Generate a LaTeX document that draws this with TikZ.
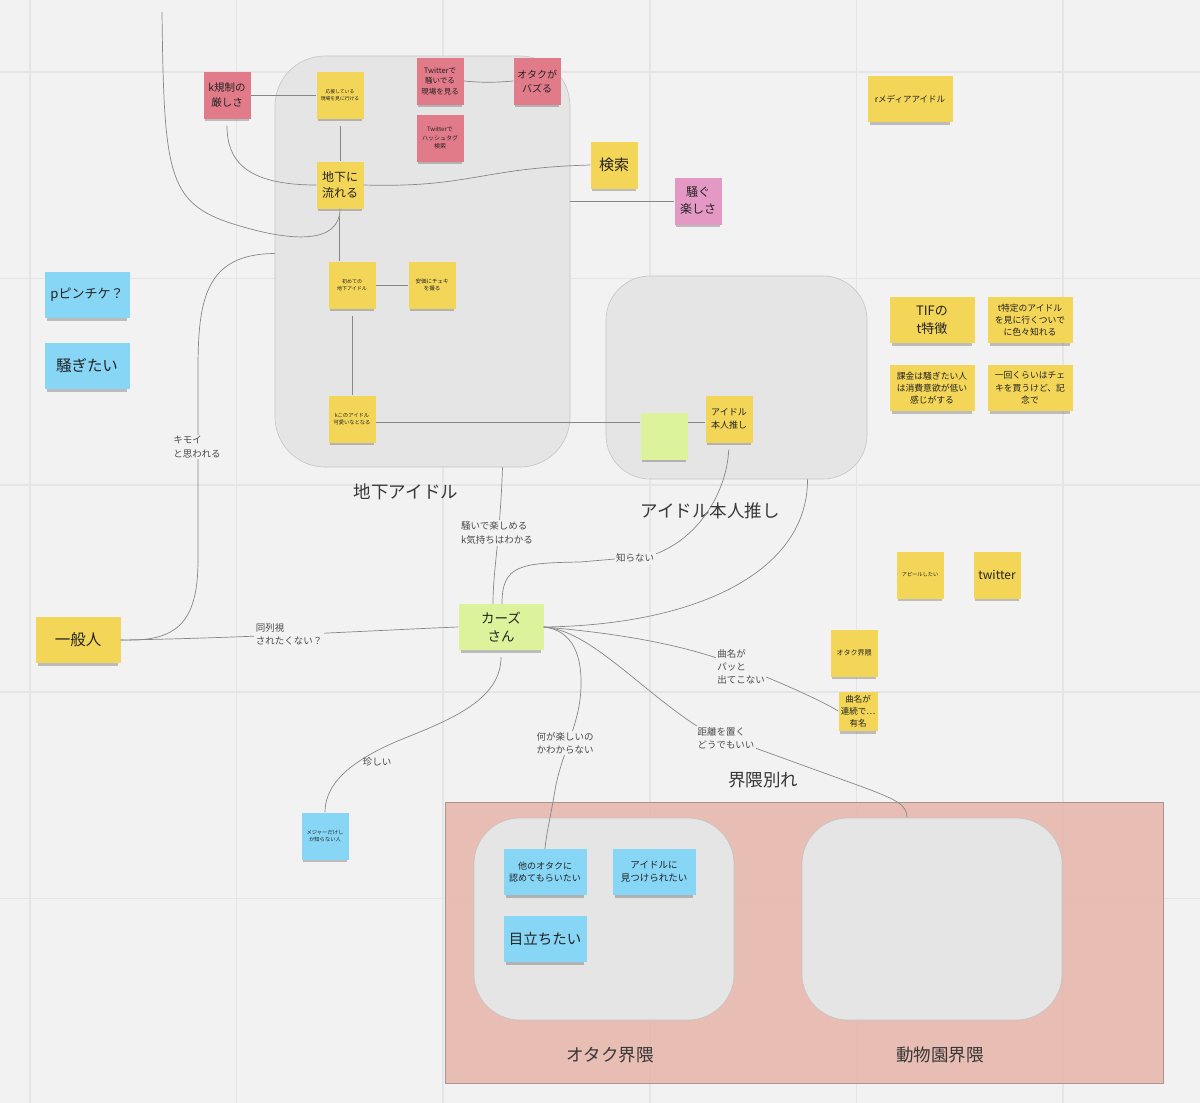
\documentclass[tikz,border=0pt]{standalone}
\usepackage{fontspec}
\setmainfont{Noto Sans CJK JP}
\usetikzlibrary{shadows}
\definecolor{bg}{RGB}{242,242,242}
\definecolor{gridc}{RGB}{229,229,229}
\definecolor{grpfill}{RGB}{229,229,229}
\definecolor{grpline}{RGB}{196,196,196}
\definecolor{zone}{RGB}{231,184,173}
\definecolor{zoneline}{RGB}{165,150,146}
\definecolor{connline}{RGB}{135,135,135}
\definecolor{ink}{RGB}{35,35,35}
\definecolor{labink}{RGB}{75,75,75}
\definecolor{ttlink}{RGB}{55,55,55}
\definecolor{stkyel}{RGB}{243,213,88}
\definecolor{stkred}{RGB}{226,123,137}
\definecolor{stkpink}{RGB}{228,153,197}
\definecolor{stkblue}{RGB}{136,214,246}
\definecolor{stkgreen}{RGB}{220,243,155}
\begin{document}
\begin{tikzpicture}[x=1pt,y=-1pt,
  fs/.style={font=\fontsize{#1}{\fpeval{1.4*#1}}\selectfont},
  note/.style={inner sep=0pt,align=center,text=ink,minimum width=47pt,minimum height=47pt,
    drop shadow={shadow xshift=0pt,shadow yshift=-4.5pt,shadow scale=.94,opacity=.22,fill=black}},
  wide/.style={minimum width=85pt,minimum height=46pt},
  yel/.style={note,fill=stkyel},
  red/.style={note,fill=stkred},
  pink/.style={note,fill=stkpink},
  blue/.style={note,fill=stkblue},
  lime/.style={note,fill=stkgreen},
  grp/.style={draw=grpline,fill=grpfill,line width=0.6pt,inner sep=0pt},
  ttl/.style={text=ttlink,fs=17.5},
  conn/.style={draw=connline,line width=0.7pt},
  lab/.style={fill=bg,inner sep=1.5pt,align=left,text=labink,fs=9.5}]
\useasboundingbox[fill=bg] (0,0) rectangle (1200,1103);
\foreach \i in {0,...,5} {
  \draw[gridc,line width=1.5pt] ({30+206.6*\i},0) -- ({30+206.6*\i},1103);
  \draw[gridc,line width=1.5pt] (0,{72+206.6*\i}) -- (1200,{72+206.6*\i});
}
% グループ
\node[grp,minimum width=295pt,minimum height=411pt,rounded corners=50pt] (chikabox) at (422.5,261.5) {};
\node[grp,minimum width=261pt,minimum height=203pt,rounded corners=44pt] (honninbox) at (736.5,377.5) {};
\draw[draw=zoneline,fill=zone,fill opacity=.9,line width=0.6pt] (445,802) rectangle (1163,1083);
\node[grp,minimum width=260pt,minimum height=202pt,rounded corners=46pt] (otakubox) at (604,919) {};
\node[grp,minimum width=260pt,minimum height=202pt,rounded corners=46pt] (zoobox) at (932,919) {};
\node[ttl] (t1) at (406,492) {地下アイドル};
\node[ttl] (t2) at (710,511) {アイドル本人推し};
\node[ttl] (t3) at (763,780) {界隈別れ};
\node[ttl] (t4) at (610,1055) {オタク界隈};
\node[ttl] (t5) at (940,1055) {動物園界隈};
% 付箋
\node[red,fs=10.5] (kisei) at (227,95) {k規制の\\厳しさ};
\node[yel,fs=4.8] (genba) at (340,95) {応援している\\現場を見に行ける};
\node[red,fs=7.5] (twsawa) at (440,81) {Twitterで\\騒いでる\\現場を見る};
\node[red,fs=10] (buzz) at (537,81) {オタクが\\バズる};
\node[red,fs=6] (tag) at (440,138) {Twitterで\\ハッシュタグ\\検索};
\node[yel,fs=12] (chika) at (340,185) {地下に\\流れる};
\node[yel,fs=15] (kensaku) at (614,165) {検索};
\node[pink,fs=12] (sawagu) at (698,201) {騒ぐ\\楽しさ};
\node[yel,fs=5] (hajime) at (352,285) {初めての\\地下アイドル};
\node[yel,fs=5.5] (cheki) at (432,285) {安価にチェキ\\を撮る};
\node[yel,fs=5.3] (kawaii) at (352,419) {kこのアイドル\\可愛いなとなる};
\node[lime] (midori) at (664,436) {};
\node[yel,fs=9] (honnin) at (729,419) {アイドル\\本人推し};
\node[blue,wide,fs=13] (pinchi) at (87,295) {pピンチケ？};
\node[blue,wide,fs=15.5] (sawagi) at (87,366) {騒ぎたい};
\node[yel,wide,fs=15.5] (ippan) at (78,640) {一般人};
\node[lime,wide,fs=13.5] (kazu) at (501,627) {カーズ\\さん};
\node[yel,wide,fs=8.5] (media) at (910,99) {rメディアアイドル};
\node[yel,wide,fs=13] (tif) at (932,320) {TIFの\\t特徴};
\node[yel,wide,fs=8.8] (tokutei) at (1030,320) {t特定のアイドル\\を見に行くついで\\に色々知れる};
\node[yel,wide,fs=8.8] (kakin) at (932,388) {課金は騒ぎたい人\\は消費意欲が低い\\感じがする};
\node[yel,wide,fs=8.8] (ikkai) at (1030,388) {一回くらいはチェ\\キを買うけど、記\\念で};
\node[yel,fs=5.2] (appeal) at (920,575) {アピールしたい};
\node[yel,fs=12] (twitter) at (997,575) {twitter};
\node[yel,fs=7] (otakukai) at (854,653) {オタク界隈};
\node[yel,minimum width=39pt,minimum height=39pt,fs=8.5] (kyoku) at (858,711) {曲名が\\連続で…\\有名};
\node[blue,fs=5.3] (major) at (325,836) {メジャーだけし\\か知らない人};
\node[blue,wide,minimum width=83pt,fs=9] (mitome) at (545,872) {他のオタクに\\認めてもらいたい};
\node[blue,wide,minimum width=83pt,fs=9.5] (mitsuke) at (654,872) {アイドルに\\見つけられたい};
\node[blue,wide,minimum width=83pt,fs=14.5] (medatsu) at (545,939) {目立ちたい};
% 線
\coordinate (ctop) at (162,12);
\draw[conn] (ctop) .. controls (164,180) and (168,205) .. (240,226) .. controls (290,241) and (340,245) .. (chika.south);
\draw[conn] (kisei.east) -- (genba.west);
\draw[conn,shorten <=7pt] (kisei.south) .. controls (227,160) and (245,185) .. (chika.west);
\draw[conn,shorten <=7pt] (genba.south) -- (chika.north);
\draw[conn] (twsawa.east) to[bend right=5] (buzz.west);
\draw[conn] (chika.east) .. controls (470,188) and (480,168) .. (kensaku.west);
\draw[conn,shorten <=7pt] ([xshift=-1pt]chika.south) -- ([xshift=-1pt]chika.south |- hajime.north);
\draw[conn] (hajime.east) -- (cheki.west);
\draw[conn,shorten <=7pt] (hajime.south) -- (kawaii.north);
\draw[conn] ([yshift=-3pt]kawaii.east) -- ([yshift=-3pt]kawaii.east -| midori.west);
\draw[conn] ([yshift=-3pt]midori.east |- honnin.west) -- ([yshift=-3pt]honnin.west);
\draw[conn] (chikabox.east |- sawagu.west) -- (sawagu.west);
\draw[conn] ([yshift=8pt]chikabox.west) .. controls (205,254) and (198,300) .. (198,370) -- (198,560) .. controls (198,625) and (175,642) .. (ippan.east);
\draw[conn] (ippan.east) .. controls (250,638) and (380,630) .. (kazu.west);
\draw[conn] ([xshift=80pt]chikabox.south) .. controls (500,540) and (493,570) .. ([xshift=-8pt]kazu.north);
\draw[conn,shorten >=7pt] ([xshift=1pt]kazu.north) .. controls (502,565) and (520,563) .. (580,562) -- (650,556) .. controls (700,540) and (727,490) .. (honnin.south);
\draw[conn] (kazu.east) .. controls (700,625) and (808,570) .. ([xshift=71pt]honninbox.south);
\draw[conn] (kazu.east) .. controls (640,635) and (700,650) .. (741,667) .. controls (780,682) and (820,700) .. (kyoku.west);
\draw[conn] (kazu.east) .. controls (590,630) and (640,690) .. (700,728) -- (860,786) .. controls (898,800) and (907,805) .. ([xshift=-25pt]zoobox.north);
\draw[conn] (kazu.east) .. controls (572,630) and (585,655) .. (580,700) .. controls (576,730) and (560,760) .. (555,790) .. controls (550,820) and (546,835) .. (mitome.north);
\draw[conn,shorten <=7pt] (kazu.south) .. controls (501,700) and (450,720) .. (400,740) .. controls (340,765) and (325,790) .. (major.north);
% ラベル
\node[lab] (l1) at (197,447) {キモイ\\と思われる};
\node[lab] (l2) at (289,634) {同列視\\されたくない？};
\node[lab] (l3) at (497,533) {騒いで楽しめる\\k気持ちはわかる};
\node[lab] (l4) at (635,558) {知らない};
\node[lab] (l5) at (741,667) {曲名が\\パッと\\出てこない};
\node[lab] (l6) at (726,738) {距離を置く\\どうでもいい};
\node[lab] (l7) at (565,743) {何が楽しいの\\かわからない};
\node[lab,fill=none] (l8) at (377,762) {珍しい};
\end{tikzpicture}
\end{document}
